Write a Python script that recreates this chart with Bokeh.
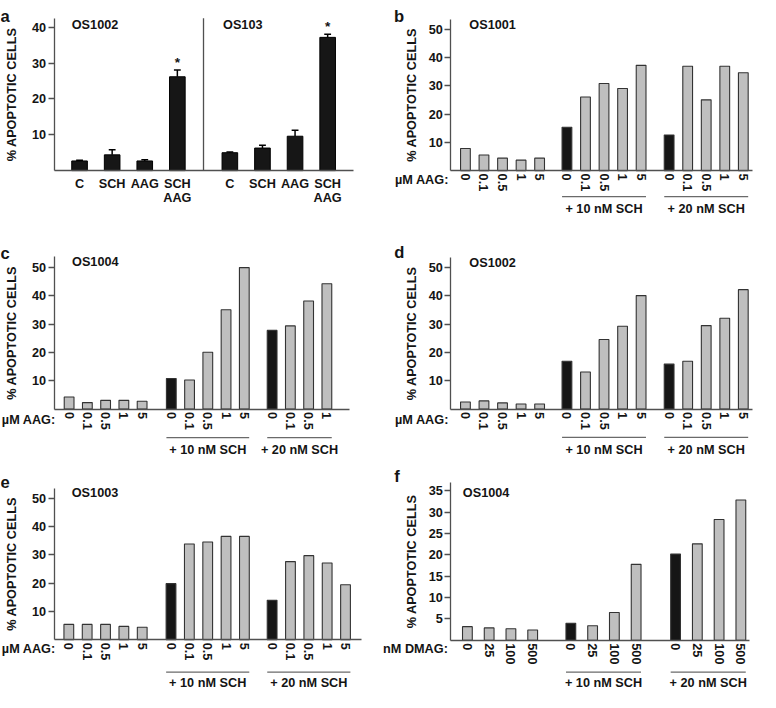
import math
from bokeh.plotting import figure
from bokeh.models import Label, FixedTicker, Range1d
from bokeh.layouts import column, row
from bokeh.embed import file_html
from bokeh.resources import INLINE

# ---------------- data ----------------
Y_TITLE = "% APOPTOTIC CELLS"

a_treatments = ["C", "SCH", "AAG", "SCH\nAAG"]
a_cells = ["OS1002", "OS103"]
a_os1002_mean = [2.7, 4.4, 2.7, 26.2]
a_os1002_err = [0.2, 1.4, 0.3, 1.9]
a_os103_mean = [5.0, 6.3, 9.6, 37.2]
a_os103_err = [0.2, 0.8, 1.7, 0.9]
a_significant = ["", "", "", "*"]
a_yticks = [10, 20, 30, 40]

aag_doses = ["0", "0.1", "0.5", "1", "5"]
dmag_doses = ["0", "25", "100", "500"]
sch_groups = ["+ 10 nM SCH", "+ 20 nM SCH"]
aag_axis_label = "µM AAG:"
dmag_axis_label = "nM DMAG:"
aag_yticks = [10, 20, 30, 40, 50]
dmag_yticks = [5, 10, 15, 20, 25, 30, 35]

b_cell = "OS1001"
b_alone = [7.8, 5.5, 4.4, 3.7, 4.4]
b_sch10 = [15.3, 26.0, 30.8, 29.0, 37.2]
b_sch20 = [12.6, 36.9, 25.0, 36.9, 34.6]

c_cell = "OS1004"
c_alone = [4.3, 2.3, 3.1, 3.1, 2.8]
c_sch10 = [10.8, 10.3, 20.1, 35.1, 50.0]
c_sch20 = [27.8, 29.4, 38.2, 44.3]          # doses 0, 0.1, 0.5, 1

d_cell = "OS1002"
d_alone = [2.5, 2.9, 2.2, 1.8, 1.8]
d_sch10 = [16.9, 13.1, 24.6, 29.3, 40.1]
d_sch20 = [15.9, 16.9, 29.5, 32.1, 42.2]

e_cell = "OS1003"
e_alone = [5.4, 5.4, 5.4, 4.7, 4.4]
e_sch10 = [19.8, 33.8, 34.5, 36.5, 36.5]
e_sch20 = [13.9, 27.6, 29.7, 27.1, 19.4]

f_cell = "OS1004"
f_alone = [3.2, 2.9, 2.7, 2.4]
f_sch10 = [4.0, 3.4, 6.5, 17.8]
f_sch20 = [20.2, 22.6, 28.3, 32.9]

# ---------------- styling ----------------
S = 0.976
FONT = "Liberation Sans"
INK = "#141414"
AXIS = "#505050"
BLACK_FILL = "#161616"
GRAY_FILL = "#bfbfbf"
BAR_LINE = "#333333"
RULE = "#6a6a6a"


def px(v):
    return f"{v * S:.1f}px"


class Panel:
    """One panel; the plotting frame covers the whole canvas and the axes are
    pinned (fixed_location) where the reference draws them."""

    def __init__(self, origin, size, frame, unit, first, ppu, yticks, label_standoff):
        ox, oy = origin
        w, h = size
        l, r, t, b = frame
        self.unit, self.first, self.ppu, self.b = unit, first, ppu, b
        W = round(w * S)
        H = round(h * S)
        xr = (self.fx(ox), self.fx(ox + W / S))
        yr = (self.fy(oy + H / S), self.fy(oy))
        p = figure(width=W, height=H, x_range=Range1d(*xr), y_range=Range1d(*yr),
                   output_backend="svg", toolbar_location=None, tools="",
                   min_border_left=0, min_border_right=0,
                   min_border_top=0, min_border_bottom=0)
        p.title.text = ""
        p.title.visible = False
        p.outline_line_color = None
        p.grid.visible = False
        p.background_fill_color = "white"
        p.border_fill_color = "white"

        ya = p.yaxis[0]
        ya.fixed_location = self.fx(l)
        ya.bounds = (0, self.fy(t))
        ya.ticker = FixedTicker(ticks=yticks)
        ya.axis_label = Y_TITLE
        ya.axis_label_text_font = FONT
        ya.axis_label_text_font_style = "bold"
        ya.axis_label_text_font_size = px(13)
        ya.axis_label_text_color = INK
        ya.axis_label_standoff = round(label_standoff * S)
        ya.major_label_text_font = FONT
        ya.major_label_text_font_style = "bold"
        ya.major_label_text_font_size = px(13)
        ya.major_label_text_color = INK
        ya.major_label_standoff = 2
        ya.major_tick_out = 6
        ya.major_tick_in = 0
        ya.minor_tick_out = 0
        ya.minor_tick_in = 0
        ya.axis_line_color = AXIS
        ya.axis_line_width = 1.3
        ya.major_tick_line_color = AXIS
        ya.major_tick_line_width = 1.3

        xa = p.xaxis[0]
        xa.fixed_location = 0
        xa.bounds = (self.fx(l), self.fx(r))
        xa.major_tick_out = 0
        xa.major_tick_in = 0
        xa.minor_tick_out = 0
        xa.minor_tick_in = 0
        xa.axis_line_color = AXIS
        xa.axis_line_width = 1.3
        xa.major_label_text_font = FONT
        xa.major_label_text_font_style = "bold"
        xa.major_label_text_font_size = px(13)
        xa.major_label_text_color = INK
        self.p = p

    def fx(self, X):
        return (X - self.first) / self.unit

    def fy(self, Y):
        return (self.b - Y) / self.ppu

    def text(self, X, Y, text, size=13, align="left", baseline="middle"):
        self.p.add_layout(Label(x=self.fx(X), y=self.fy(Y), text=text, text_font=FONT,
                                text_font_style="bold", text_font_size=px(size),
                                text_align=align, text_baseline=baseline, text_color=INK))

    def hline(self, X0, X1, Y):
        y = self.fy(Y)
        self.p.segment(x0=[self.fx(X0)], y0=[y], x1=[self.fx(X1)], y1=[y],
                       line_color=RULE, line_width=1.2)


# ---------------- panel a ----------------
def panel_a():
    l, r, t, b = 55, 362, 18.3, 174.3
    unit, first = 33.4, 81.0
    P = Panel((0, 0), (390, 236), (l, r, t, b), unit, first, 3.67, a_yticks, 10)
    p = P.p
    right_off = round(P.fx(235), 4)

    n = len(a_treatments)
    xs_left = [float(i) for i in range(n)]
    xs_right = [round(right_off + i, 4) for i in range(n)]
    bw = 16 / unit
    cap = 3.5 / unit
    for xs, means, errs in ((xs_left, a_os1002_mean, a_os1002_err),
                            (xs_right, a_os103_mean, a_os103_err)):
        p.vbar(x=xs, top=means, width=bw, fill_color=BLACK_FILL,
               line_color="#000000", line_width=1)
        tops = [m + e for m, e in zip(means, errs)]
        p.segment(x0=xs, y0=means, x1=xs, y1=tops, line_color="#000000", line_width=1.5)
        p.segment(x0=[x - cap for x in xs], y0=tops, x1=[x + cap for x in xs], y1=tops,
                  line_color="#000000", line_width=1.5)
        for x, tp, s in zip(xs, tops, a_significant):
            if s:
                p.add_layout(Label(x=x, y=tp + 7.5 / 3.67, text=s, text_font=FONT,
                                   text_font_style="bold", text_font_size=px(14),
                                   text_align="center", text_baseline="middle",
                                   text_color=INK))

    # divider between the two cell lines
    dx = P.fx(208)
    p.segment(x0=[dx], y0=[0], x1=[dx], y1=[P.fy(t)], line_color=AXIS, line_width=1.3)

    xa = p.xaxis[0]
    ticks = xs_left + xs_right
    xa.ticker = FixedTicker(ticks=ticks)
    xa.major_label_overrides = {x: lab for x, lab in zip(ticks, a_treatments * 2)}
    xa.major_label_standoff = 6
    xa.major_label_text_line_height = 1.05

    P.text(0, 16, "a", size=17, baseline="alphabetic")
    P.text(73, 25.3, a_cells[0])
    P.text(228, 25.3, a_cells[1])
    return p


# ---------------- dose panels b-f ----------------
def dose_panel(origin, size, frame, unit, group_px, groups, doses, yticks, ppu,
               cell, letter, letter_pos, cell_pos, dose_label, dose_label_pos,
               line_y, text_y, label_standoff):
    first = group_px[0]
    P = Panel(origin, size, frame, unit, first, ppu, yticks, label_standoff)
    p = P.p
    bw = 10 / unit

    ticks, labels, spans = [], [], []
    for gi, (gx, vals) in enumerate(zip(group_px, groups)):
        off = P.fx(gx)
        xs = [round(off + i, 4) for i in range(len(vals))]
        colors = [BLACK_FILL if (gi > 0 and i == 0) else GRAY_FILL for i in range(len(vals))]
        p.vbar(x=xs, top=vals, width=bw, fill_color=colors, line_color=BAR_LINE, line_width=1.1)
        ticks += xs
        labels += doses[:len(vals)]
        spans.append((gx - 5, gx + unit * (len(vals) - 1) + 5))

    xa = p.xaxis[0]
    xa.ticker = FixedTicker(ticks=ticks)
    xa.major_label_overrides = {x: lab for x, lab in zip(ticks, labels)}
    xa.major_label_orientation = "vertical"
    xa.major_label_standoff = 3

    for (X0, X1), name in zip(spans[1:], sch_groups):
        P.hline(X0, X1, line_y)
        P.text((X0 + X1) / 2, text_y, name, align="center")

    P.text(letter_pos[0], letter_pos[1], letter, size=17, baseline="alphabetic")
    P.text(cell_pos[0], cell_pos[1], cell)
    P.text(dose_label_pos[0], dose_label_pos[1], dose_label, align="right")
    return p


pa = panel_a()
pb = dose_panel((390, 0), (386, 236), (461, 770, 19, 174.3), 19.0, [476, 580, 684.7],
                [b_alone, b_sch10, b_sch20], aag_doses, aag_yticks, 2.9,
                b_cell, "b", (402.7, 16), (480, 25), aag_axis_label, (459, 184.3),
                201, 213.3, 6)
pc = dose_panel((0, 236), (390, 232), (55, 358, 263, 419), 18.7, [70.3, 175, 278.3],
                [c_alone, c_sch10, c_sch20], aag_doses, aag_yticks, 2.9,
                c_cell, "c", (0, 260), (73.3, 268.3), aag_axis_label, (56.5, 430),
                448.3, 461, 10)
pd = dose_panel((390, 236), (386, 232), (461, 770, 263.3, 419), 19.0, [476, 580, 684.7],
                [d_alone, d_sch10, d_sch20], aag_doses, aag_yticks, 2.9,
                d_cell, "d", (403, 258.3), (480, 269), aag_axis_label, (459, 430),
                448, 461, 6)
pe = dose_panel((0, 468), (390, 241), (55, 370, 500.7, 655.7), 18.8, [70, 174.7, 278.3],
                [e_alone, e_sch10, e_sch20], aag_doses, aag_yticks, 2.9,
                e_cell, "e", (0, 494), (73, 505), aag_axis_label, (56.5, 665),
                689, 700, 10)
pf = dose_panel((390, 468), (386, 241), (461, 767, 495, 656.3), 22.3, [478, 584, 691.3],
                [f_alone, f_sch10, f_sch20], dmag_doses, dmag_yticks, 4.371,
                f_cell, "f", (403, 489), (473.3, 505), dmag_axis_label, (458, 665),
                689, 700, 6)

layout = column(row(pa, pb), row(pc, pd), row(pe, pf))
open("out.html", "w").write(file_html(layout, INLINE))
